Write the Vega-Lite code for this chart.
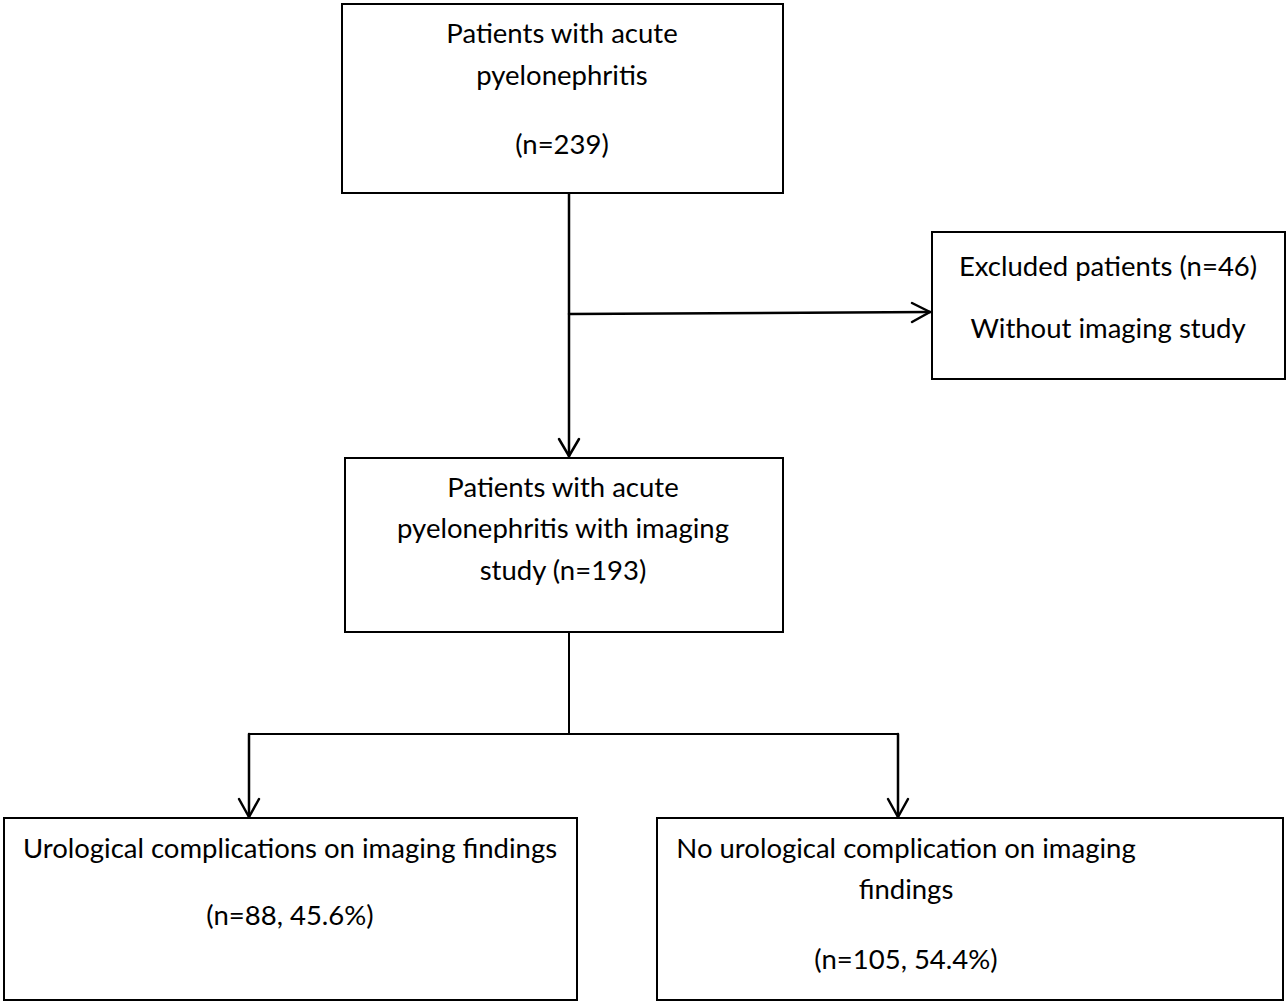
{
  "$schema": "https://vega.github.io/schema/vega-lite/v6.json",
  "width": 1287,
  "height": 1003,
  "autosize": {"type": "fit", "contains": "padding"},
  "padding": 0,
  "background": "white",
  "config": {"view": {"stroke": null}},
  "datasets": {
    "boxes": [
      {"id": "b1", "x1": 342, "x2": 783, "y1": 4, "y2": 193},
      {"id": "b2", "x1": 932, "x2": 1285, "y1": 232, "y2": 379},
      {"id": "b3", "x1": 345, "x2": 783, "y1": 458, "y2": 632},
      {"id": "b4", "x1": 4, "x2": 577, "y1": 818, "y2": 1000},
      {"id": "b5", "x1": 657, "x2": 1283, "y1": 818, "y2": 1000}
    ],
    "segments": [
      {"x1": 569, "y1": 194, "x2": 569, "y2": 456, "w": 2.5},
      {"x1": 569, "y1": 314, "x2": 930, "y2": 312, "w": 2.5},
      {"x1": 569, "y1": 456, "x2": 559, "y2": 439, "w": 2.5},
      {"x1": 569, "y1": 456, "x2": 579, "y2": 439, "w": 2.5},
      {"x1": 930, "y1": 312, "x2": 912, "y2": 303, "w": 2.5},
      {"x1": 930, "y1": 312, "x2": 912, "y2": 322, "w": 2.5},
      {"x1": 569, "y1": 632, "x2": 569, "y2": 734, "w": 2},
      {"x1": 249, "y1": 734, "x2": 898, "y2": 734, "w": 2},
      {"x1": 249, "y1": 734, "x2": 249, "y2": 817, "w": 2.5},
      {"x1": 898, "y1": 734, "x2": 898, "y2": 817, "w": 2.5},
      {"x1": 249, "y1": 817, "x2": 239, "y2": 799, "w": 2.5},
      {"x1": 249, "y1": 817, "x2": 259, "y2": 799, "w": 2.5},
      {"x1": 898, "y1": 817, "x2": 888, "y2": 799, "w": 2.5},
      {"x1": 898, "y1": 817, "x2": 908, "y2": 799, "w": 2.5}
    ],
    "labels": [
      {"x": 562, "y": 35, "t": "Patients with acute"},
      {"x": 562, "y": 77, "t": "pyelonephritis"},
      {"x": 562, "y": 146, "t": "(n=239)"},
      {"x": 1108, "y": 268, "t": "Excluded patients (n=46)"},
      {"x": 1108, "y": 330, "t": "Without imaging study"},
      {"x": 563, "y": 489, "t": "Patients with acute"},
      {"x": 563, "y": 530, "t": "pyelonephritis with imaging"},
      {"x": 563, "y": 572, "t": "study (n=193)"},
      {"x": 290, "y": 850, "t": "Urological complications on imaging findings"},
      {"x": 290, "y": 917, "t": "(n=88, 45.6%)"},
      {"x": 906, "y": 850, "t": "No urological complication on imaging"},
      {"x": 906, "y": 891, "t": "findings"},
      {"x": 906, "y": 961, "t": "(n=105, 54.4%)"}
    ]
  },
  "layer": [
    {
      "data": {"name": "boxes"},
      "mark": {"type": "rect", "fill": "white", "stroke": "black", "strokeWidth": 2},
      "encoding": {
        "x": {"field": "x1", "type": "quantitative", "scale": {"domain": [0, 1287], "nice": false, "zero": false}, "axis": null},
        "x2": {"field": "x2"},
        "y": {"field": "y1", "type": "quantitative", "scale": {"domain": [0, 1003], "nice": false, "zero": false, "reverse": true}, "axis": null},
        "y2": {"field": "y2"}
      }
    },
    {
      "data": {"name": "segments"},
      "mark": {"type": "rule", "color": "black", "strokeCap": "round"},
      "encoding": {
        "x": {"field": "x1", "type": "quantitative"},
        "x2": {"field": "x2"},
        "y": {"field": "y1", "type": "quantitative"},
        "y2": {"field": "y2"},
        "strokeWidth": {"field": "w", "type": "quantitative", "scale": null}
      }
    },
    {
      "data": {"name": "labels"},
      "mark": {"type": "text", "align": "center", "baseline": "middle", "font": "Lato", "fontSize": 27.5, "color": "black"},
      "encoding": {
        "x": {"field": "x", "type": "quantitative"},
        "y": {"field": "y", "type": "quantitative"},
        "text": {"field": "t", "type": "nominal"}
      }
    }
  ]
}
